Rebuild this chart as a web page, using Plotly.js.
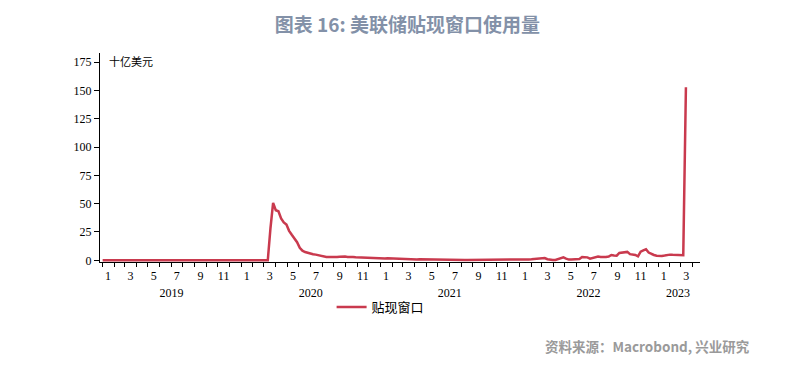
<!DOCTYPE html>
<html>
<head>
<meta charset="utf-8">
<script src="https://cdn.plot.ly/plotly-3.0.1.min.js"></script>
<style>html,body{margin:0;padding:0;background:#fff;}#chart{width:805px;height:367px;}</style>
</head>
<body>
<div id="chart"></div>
<script>
// Weekly (Wednesday) discount window primary credit, billions USD
const firstWeek = [2019, 0, 2]; // 2019-01-02
const v2019 = [
  0.02,0.03,0.02,0.04,0.03,0.02,0.03,0.05,0.04,0.03,
  0.02,0.03,0.04,0.05,0.03,0.02,0.03,0.04,0.05,0.06,
  0.04,0.03,0.04,0.05,0.06,0.05,0.04,0.03,0.04,0.05,
  0.06,0.05,0.04,0.05,0.06,0.07,0.05,0.04,0.05,0.06,
  0.05,0.04,0.05,0.06,0.05,0.04,0.05,0.06,0.07,0.05,
  0.04,0.03
];
const v2020 = [
  0.03,0.02,0.02,0.03,0.02,      // Jan
  0.02,0.03,0.02,0.03,           // Feb
  0.03,0.05,28.2,50.7,           // Mar
  44.2,43.3,37.0,33.5,31.5,      // Apr
  26.0,22.5,19.0,16.0,           // May
  11.0,8.5,7.3,6.5,              // Jun
  5.8,5.4,5.0,4.5,3.8,           // Jul
  3.2,3.0,2.9,2.8,               // Aug
  2.8,2.9,3.2,3.5,3.4,           // Sep
  3.0,3.1,2.9,2.6,               // Oct
  2.5,2.4,2.3,2.0,               // Nov
  1.8,1.7,1.5,1.3,1.2            // Dec
];
const v2021 = [
  1.3,1.5,1.8,1.7,
  1.6,1.5,1.5,1.2,
  0.8,0.6,0.6,0.6,0.6,
  0.7,0.9,0.9,0.8,
  0.7,0.6,0.6,0.5,
  0.5,0.5,0.4,0.4,0.4,
  0.3,0.3,0.3,0.3,
  0.3,0.3,0.2,0.2,
  0.2,0.2,0.2,0.2,0.2,
  0.3,0.3,0.3,0.3,
  0.3,0.3,0.3,0.3,
  0.4,0.4,0.4,0.3,0.3
];
const v2022 = [
  0.4,0.5,0.6,0.8,
  0.9,1.1,1.5,1.8,
  2.0,2.0,1.0,0.3,0.2,
  0.3,1.2,2.2,2.6,
  1.5,0.6,0.6,0.6,
  0.8,1.2,2.9,3.0,2.6,
  1.5,2.3,3.2,3.4,
  2.9,2.8,2.9,3.3,4.7,
  4.3,4.1,6.5,6.6,
  6.9,7.4,5.4,4.9,
  4.7,3.5,7.6,8.8,9.7,
  6.8,5.5,4.7,4.1
];
const v2023 = [
  3.8,3.9,4.2,4.7,
  5.0,4.8,4.6,4.7,
  4.7,4.4,152.85
];
const seriesName = '贴现窗口';
const unitLabel = '十亿美元';
const years = ['2019','2020','2021','2022','2023'];
const oddMonths = ['1','3','5','7','9','11'];
const yTicks = [0,25,50,75,100,125,150,175];

const values = [].concat(v2019, v2020, v2021, v2022, v2023);
const dates = values.map((_, i) =>
  new Date(Date.UTC(firstWeek[0], firstWeek[1], firstWeek[2] + 7 * i)).toISOString().slice(0, 10));

// tick positions
const yearStarts = years.map(y => y + '-01-01');
const monthVals = [], monthText = [];
years.forEach(y => {
  oddMonths.forEach(m => {
    if (y === '2023' && +m > 3) return;
    monthVals.push(y + '-' + String(m).padStart(2, '0') + '-16');
    monthText.push(m);
  });
});
const yearLabelVals = years.map(y => y === '2023' ? '2023-02-22' : y + '-07-02');

const xRange = ['2018-12-26', '2023-04-21'];
const serif = {family: 'Liberation Serif, Times New Roman, serif', size: 12, color: '#000'};

const ghost = (xa) => ({
  type: 'scatter', mode: 'lines', x: dates, y: values, xaxis: xa, yaxis: 'y',
  line: {width: 0, color: 'rgba(0,0,0,0)'}, opacity: 0, showlegend: false, hoverinfo: 'skip'
});

const data = [
  ghost('x2'), ghost('x3'),
  {
    type: 'scatter', mode: 'lines', x: dates, y: values, name: seriesName,
    line: {color: '#c93a4e', width: 2.5}, hoverinfo: 'skip'
  }
];

const layout = {
  width: 805, height: 367,
  margin: {l: 100, r: 105, t: 53, b: 105},
  paper_bgcolor: '#fff', plot_bgcolor: '#fff',
  hovermode: false,
  title: {
    text: '<b>图表 16: 美联储贴现窗口使用量</b>',
    font: {family: 'Noto Sans CJK SC, sans-serif', size: 19, color: '#8391a8'},
    x: 0.506, xanchor: 'center', xref: 'container',
    y: 0.932, yanchor: 'middle', yref: 'container'
  },
  xaxis: {
    type: 'date', range: xRange,
    showline: true, linecolor: '#000', linewidth: 1,
    showgrid: false, zeroline: false,
    tickmode: 'array', tickvals: yearStarts, ticktext: years.map(() => ''),
    ticks: 'outside', ticklen: 8, tickcolor: '#000', tickwidth: 1,
    showticklabels: false,
    minor: {ticks: 'outside', ticklen: 4, tickcolor: '#000', tickwidth: 1,
            tickmode: 'linear', tick0: '2019-01-01', dtick: 'M1', showgrid: false}
  },
  xaxis2: {
    type: 'date', range: xRange, overlaying: 'x', anchor: 'y', side: 'bottom',
    showline: false, showgrid: false, zeroline: false,
    tickmode: 'array', tickvals: monthVals, ticktext: monthText,
    ticks: '', ticklabelstandoff: 5, tickfont: serif
  },
  xaxis3: {
    type: 'date', range: xRange, overlaying: 'x', anchor: 'y', side: 'bottom',
    showline: false, showgrid: false, zeroline: false,
    tickmode: 'array', tickvals: yearLabelVals, ticktext: years,
    ticks: '', ticklabelstandoff: 22, tickfont: serif
  },
  yaxis: {
    range: [-1.5, 183],
    showline: true, linecolor: '#000', linewidth: 1,
    showgrid: false, zeroline: false,
    tickmode: 'array', tickvals: yTicks,
    ticks: 'outside', ticklen: 5, tickcolor: '#000', tickwidth: 1,
    tickfont: serif
  },
  showlegend: true,
  legend: {
    orientation: 'h', x: 0.386, xanchor: 'left', y: -0.215, yanchor: 'middle',
    font: {family: 'Noto Sans CJK SC, sans-serif', size: 13, color: '#000'},
    bgcolor: 'rgba(0,0,0,0)'
  },
  annotations: [
    {xref: 'paper', yref: 'paper', x: 0.012, y: 0.962, xanchor: 'left', yanchor: 'middle',
     text: unitLabel, showarrow: false,
     font: {family: 'Noto Sans CJK SC, sans-serif', size: 11, color: '#000'}},
    {xref: 'paper', yref: 'paper', x: 1.087, y: -0.40, xanchor: 'right', yanchor: 'middle',
     text: '<b>资料来源：Macrobond, 兴业研究</b>', showarrow: false,
     font: {family: 'Noto Sans CJK SC, sans-serif', size: 13.5, color: '#9a9a9a'}}
  ]
};

Plotly.newPlot('chart', data, layout, {displayModeBar: false, staticPlot: true});
</script>
</body>
</html>
